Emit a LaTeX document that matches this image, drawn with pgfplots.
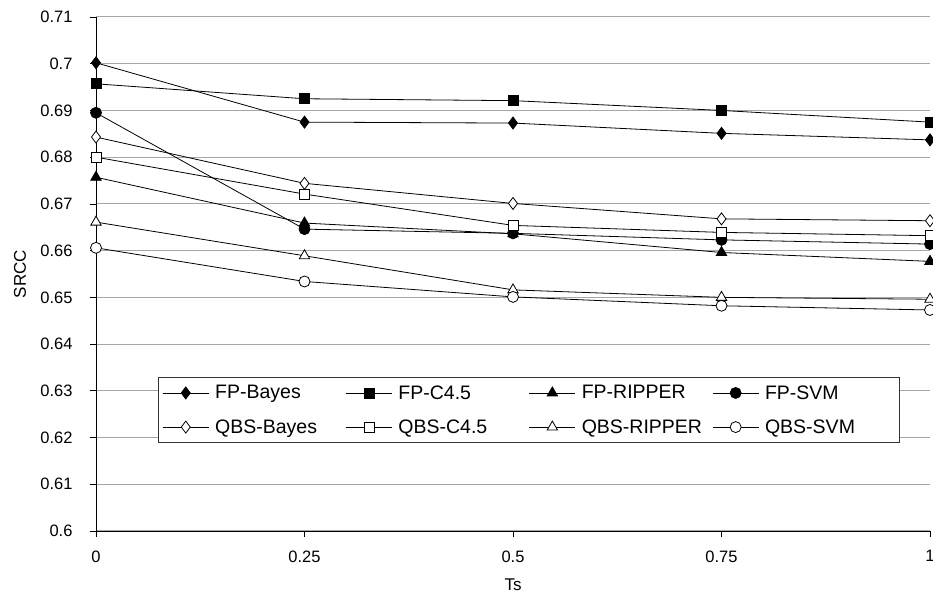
\documentclass[border=0pt]{standalone}
\usepackage{pgfplots}
\pgfplotsset{compat=1.18}
\usepackage{fontspec}
\setmainfont{Liberation Sans}
\usetikzlibrary{calc}

\begin{document}
\begin{tikzpicture}
\begin{axis}[
  scale only axis,
  width=834pt, height=514pt,
  xmin=0, xmax=1, ymin=0.6, ymax=0.71,
  xtick={0,0.25,0.5,0.75,1},
  ytick={0.6,0.61,...,0.715},
  axis x line=bottom, axis y line=left,
  axis line style={-, black, line width=0.8pt},
  ymajorgrids,
  major grid style={gray!70, line width=1pt},
  tick style={black, line width=0.8pt},
  tick align=outside,
  major tick length=6pt,
  /pgf/number format/assume math mode=true,
  yticklabel style={/pgf/number format/fixed, /pgf/number format/precision=2,
    font=\fontsize{16.5pt}{18pt}\selectfont, xshift=-14pt},
  xticklabel style={/pgf/number format/fixed, /pgf/number format/precision=2,
    font=\fontsize{16.5pt}{18pt}\selectfont, yshift=-10pt},
  xlabel={Ts}, ylabel={SRCC},
  xlabel style={font=\fontsize{17pt}{19pt}\selectfont, at={(axis description cs:0.5,-0.104)}, anchor=center},
  ylabel style={font=\fontsize{17pt}{19pt}\selectfont, at={(axis description cs:-0.091,0.5)}, anchor=center},
  every axis plot/.append style={black, line width=0.8pt},
  legend columns=4,
  legend cell align=left,
  legend style={at={(axis description cs:0.0743,0.2996)}, anchor=north west,
    draw=black!80, line width=0.8pt, fill=white,
    font=\fontsize{19.5pt}{21pt}\selectfont,
    inner xsep=4pt, inner ysep=7pt, row sep=17pt,
    nodes={text width=124.5pt, align=left, inner xsep=6pt, inner ysep=1pt}},
  legend image code/.code={%
    \draw[mark repeat=2, mark phase=2] plot coordinates {(0pt,0pt) (23pt,0pt) (46pt,0pt)};},
]
\coordinate (ll) at (rel axis cs:0,0);
\coordinate (ur) at (rel axis cs:1,1);

% FP methods (filled marks)
\addplot[mark=diamond*, mark size=6pt, mark options={fill=black}] coordinates {
  (0,0.7002) (0.25,0.6875) (0.5,0.6873) (0.75,0.6851) (1,0.6837)};
\addlegendentry{FP-Bayes}
\addplot[mark=square*, mark size=5pt, mark options={fill=black}] coordinates {
  (0,0.6957) (0.25,0.6925) (0.5,0.6921) (0.75,0.6900) (1,0.6875)};
\addlegendentry{FP-C4.5}
\addplot[mark=triangle*, mark size=6pt, mark options={fill=black}] coordinates {
  (0,0.6757) (0.25,0.6659) (0.5,0.6636) (0.75,0.6596) (1,0.6577)};
\addlegendentry{FP-RIPPER}
\addplot[mark=*, mark size=5.5pt, mark options={fill=black}] coordinates {
  (0,0.6895) (0.25,0.6646) (0.5,0.6637) (0.75,0.6623) (1,0.6614)};
\addlegendentry{FP-SVM}

% QBS methods (open marks)
\addplot[mark=diamond*, mark size=6pt, mark options={fill=white}] coordinates {
  (0,0.6843) (0.25,0.6744) (0.5,0.6701) (0.75,0.6668) (1,0.6664)};
\addlegendentry{QBS-Bayes}
\addplot[mark=square*, mark size=5pt, mark options={fill=white}] coordinates {
  (0,0.6800) (0.25,0.6721) (0.5,0.6654) (0.75,0.6639) (1,0.6632)};
\addlegendentry{QBS-C4.5}
\addplot[mark=triangle*, mark size=6pt, mark options={fill=white}] coordinates {
  (0,0.6661) (0.25,0.6589) (0.5,0.6516) (0.75,0.6500) (1,0.6496)};
\addlegendentry{QBS-RIPPER}
\addplot[mark=*, mark size=5.5pt, mark options={fill=white}] coordinates {
  (0,0.6606) (0.25,0.6534) (0.5,0.6501) (0.75,0.6482) (1,0.6473)};
\addlegendentry{QBS-SVM}
\end{axis}
\pgfresetboundingbox
\path[use as bounding box] ($(ll)+(-96pt,-62pt)$) rectangle ($(ur)+(3pt,17pt)$);
\end{tikzpicture}
\end{document}
